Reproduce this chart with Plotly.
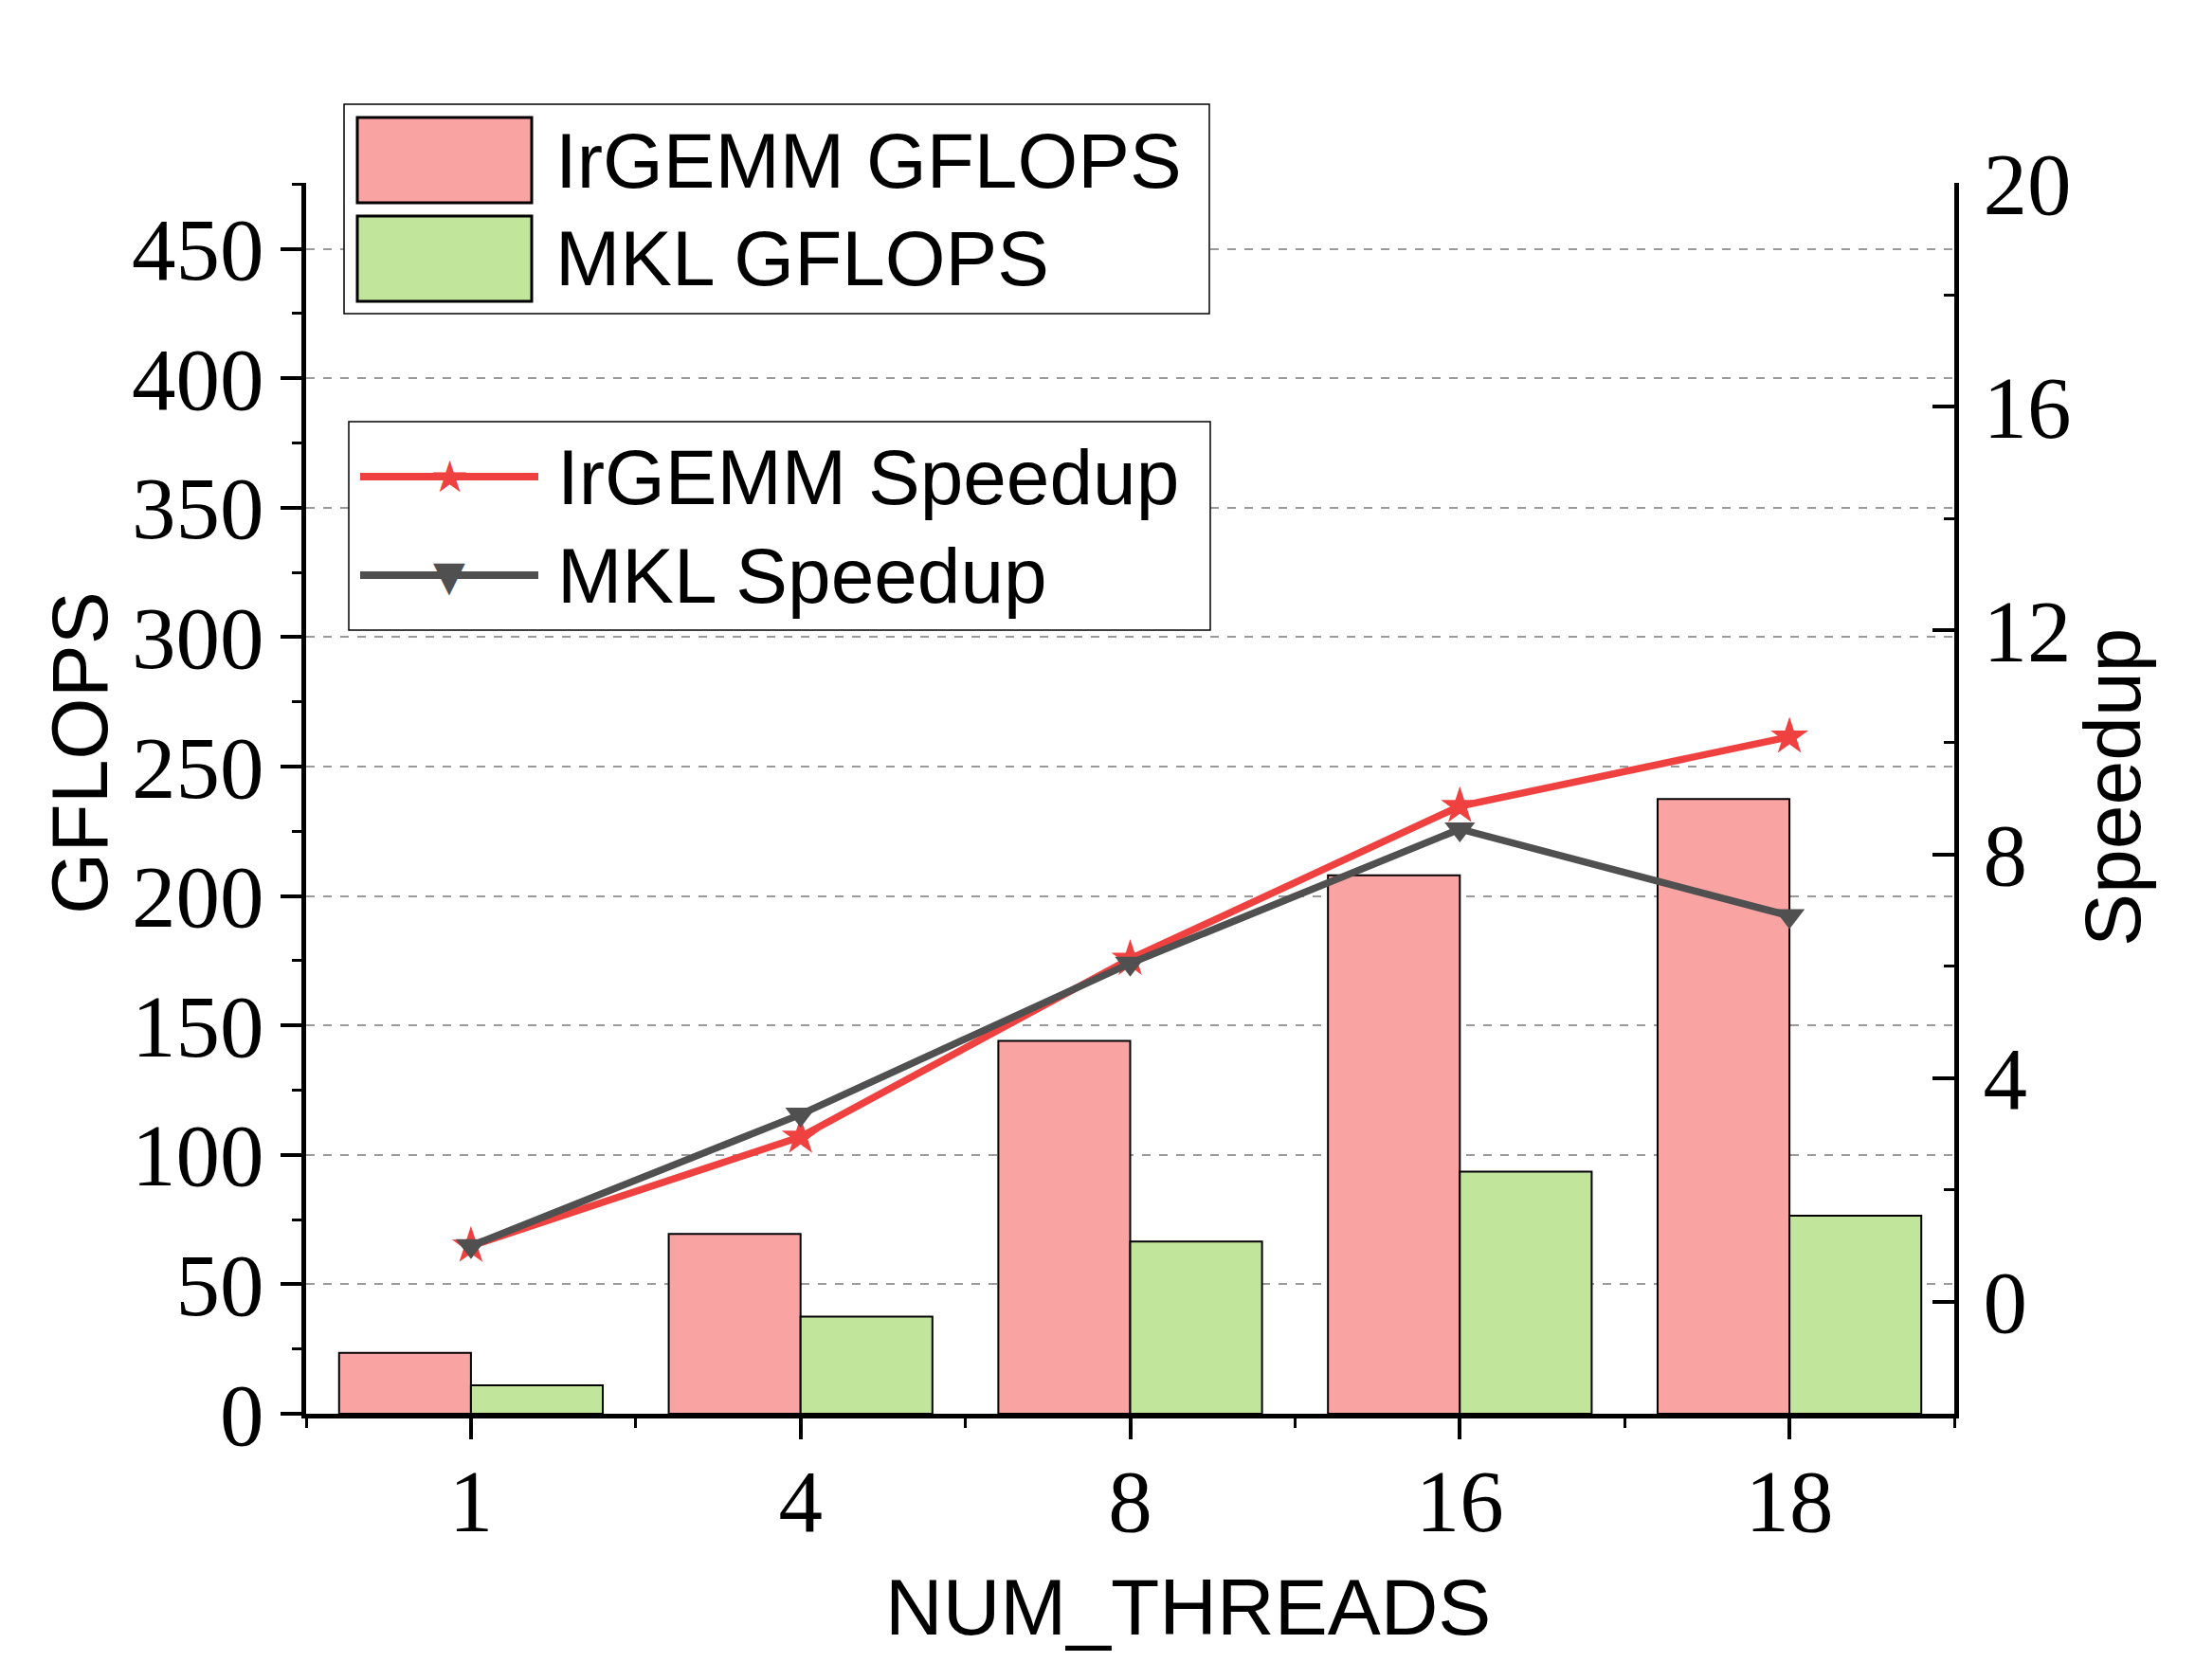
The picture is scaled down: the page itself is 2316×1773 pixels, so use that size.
import plotly.graph_objects as go

# ---------------- data ----------------
threads = ["1", "4", "8", "16", "18"]
irgemm_gflops = [23.5, 69.5, 144, 208, 237.5]
mkl_gflops = [11, 37.5, 66.5, 93.5, 76.5]
irgemm_speedup = [1.0, 2.95, 6.13, 8.86, 10.1]
mkl_speedup = [1.0, 3.35, 6.05, 8.45, 6.9]
series_names = ["IrGEMM GFLOPS", "MKL GFLOPS", "IrGEMM Speedup", "MKL Speedup"]
gflops_ticks = [0, 50, 100, 150, 200, 250, 300, 350, 400, 450]
speedup_ticks = [0, 4, 8, 12, 16, 20]

# ---------------- style ----------------
W, H = 2316, 1773
L, R, T, B = 323, 2062, 193, 1492          # plot area in pixels
PINK, GREEN = "#FAA3A3", "#C1E59B"
RED, GRAY = "#F04141", "#505050"
SANS = "Liberation Sans"
SERIF = "Liberation Serif"

def px(x):
    return (x - L) / (R - L)

def py(y):
    return (B - y) / (B - T)

xpos = list(range(len(threads)))

fig = go.Figure()
fig.add_bar(x=xpos, y=irgemm_gflops, name=series_names[0],
            marker=dict(color=PINK, line=dict(color="black", width=2)),
            showlegend=False)
fig.add_bar(x=xpos, y=mkl_gflops, name=series_names[1],
            marker=dict(color=GREEN, line=dict(color="black", width=2)),
            showlegend=False)
fig.add_scatter(x=xpos, y=irgemm_speedup, yaxis="y2", name=series_names[2],
                mode="lines+markers", line=dict(color=RED, width=7.5),
                marker=dict(symbol="star", size=30, color=RED),
                showlegend=False)
fig.add_scatter(x=xpos, y=mkl_speedup, yaxis="y2", name=series_names[3],
                mode="lines+markers", line=dict(color=GRAY, width=7.5),
                marker=dict(symbol="triangle-down", size=28, color=GRAY),
                showlegend=False)

tickfont = dict(family=SERIF, size=93, color="black")

fig.update_layout(
    width=W, height=H,
    margin=dict(l=L, r=W - R, t=T, b=H - B, pad=0),
    paper_bgcolor="white", plot_bgcolor="white",
    barmode="group", bargap=0.2, bargroupgap=0,
    xaxis=dict(
        range=[-0.5, len(threads) - 0.5],
        tickmode="array", tickvals=xpos, ticktext=threads,
        ticks="outside", ticklen=22, tickwidth=4, tickcolor="black",
        showline=True, linewidth=5, linecolor="black",
        showgrid=False, zeroline=False,
        tickfont=tickfont, ticklabelstandoff=-15,
        minor=dict(tickmode="array",
                   tickvals=[i - 0.5 for i in range(len(threads) + 1)],
                   ticks="outside", ticklen=10, tickwidth=3, tickcolor="black",
                   showgrid=False),
    ),
    yaxis=dict(
        range=[0, 475.5],
        tickmode="array", tickvals=gflops_ticks,
        ticks="outside", ticklen=22, tickwidth=4, tickcolor="black",
        showline=True, linewidth=5, linecolor="black",
        showgrid=True, gridcolor="#9A9A9A", gridwidth=1.5, griddash="dash",
        zeroline=False,
        tickfont=tickfont, ticklabelstandoff=-1,
        minor=dict(tickmode="linear", tick0=0, dtick=25,
                   ticks="outside", ticklen=10, tickwidth=3, tickcolor="black",
                   showgrid=False),
    ),
    yaxis2=dict(
        overlaying="y", side="right",
        range=[-2, 20],
        tickmode="array", tickvals=speedup_ticks,
        ticks="inside", ticklen=23, tickwidth=4, tickcolor="black",
        showline=True, linewidth=5, linecolor="black",
        showgrid=False, zeroline=False,
        tickfont=tickfont, ticklabelstandoff=7,
        minor=dict(tickmode="linear", tick0=0, dtick=2,
                   ticks="inside", ticklen=11, tickwidth=3, tickcolor="black",
                   showgrid=False),
    ),
)

# ---------------- axis titles ----------------
title_font = dict(family=SANS, size=84, color="black")
fig.add_annotation(text="NUM_THREADS", xref="paper", yref="paper",
                   x=px(1253), y=py(1696), showarrow=False,
                   xanchor="center", yanchor="middle", font=title_font)
fig.add_annotation(text="GFLOPS", xref="paper", yref="paper",
                   x=px(84), y=py(795), showarrow=False, textangle=-90,
                   xanchor="center", yanchor="middle", font=title_font)
fig.add_annotation(text="Speedup", xref="paper", yref="paper",
                   x=px(2229), y=py(831), showarrow=False, textangle=-90,
                   xanchor="center", yanchor="middle", font=title_font)

# ---------------- custom legends ----------------
legend_font = dict(family=SANS, size=82, color="black")
# legend 1 : bars
fig.add_shape(type="rect", xref="paper", yref="paper",
              x0=px(363), x1=px(1276), y0=py(331), y1=py(110),
              line=dict(color="black", width=1.5), fillcolor="white", layer="above")
for name, color, yc in [(series_names[0], PINK, 169), (series_names[1], GREEN, 273)]:
    fig.add_shape(type="rect", xref="paper", yref="paper",
                  x0=px(377), x1=px(561), y0=py(yc + 45), y1=py(yc - 45),
                  line=dict(color="black", width=3), fillcolor=color, layer="above")
    fig.add_annotation(text=name, xref="paper", yref="paper",
                       x=px(584), y=py(yc), showarrow=False,
                       xanchor="left", yanchor="middle", font=legend_font)

# legend 2 : lines
fig.add_shape(type="rect", xref="paper", yref="paper",
              x0=px(368), x1=px(1277), y0=py(665), y1=py(445),
              line=dict(color="black", width=1.5), fillcolor="white", layer="above")
for name, color, glyph, gsize, yc in [(series_names[2], RED, "★", 46, 503),
                                      (series_names[3], GRAY, "▼", 44, 607)]:
    fig.add_shape(type="line", xref="paper", yref="paper",
                  x0=px(380), x1=px(568), y0=py(yc), y1=py(yc),
                  line=dict(color=color, width=8), layer="above")
    fig.add_annotation(text=glyph, xref="paper", yref="paper",
                       x=px(474), y=py(yc), showarrow=False,
                       xanchor="center", yanchor="middle",
                       font=dict(family="DejaVu Sans", size=gsize, color=color))
    fig.add_annotation(text=name, xref="paper", yref="paper",
                       x=px(586), y=py(yc), showarrow=False,
                       xanchor="left", yanchor="middle", font=legend_font)

fig.write_html("out.html")
